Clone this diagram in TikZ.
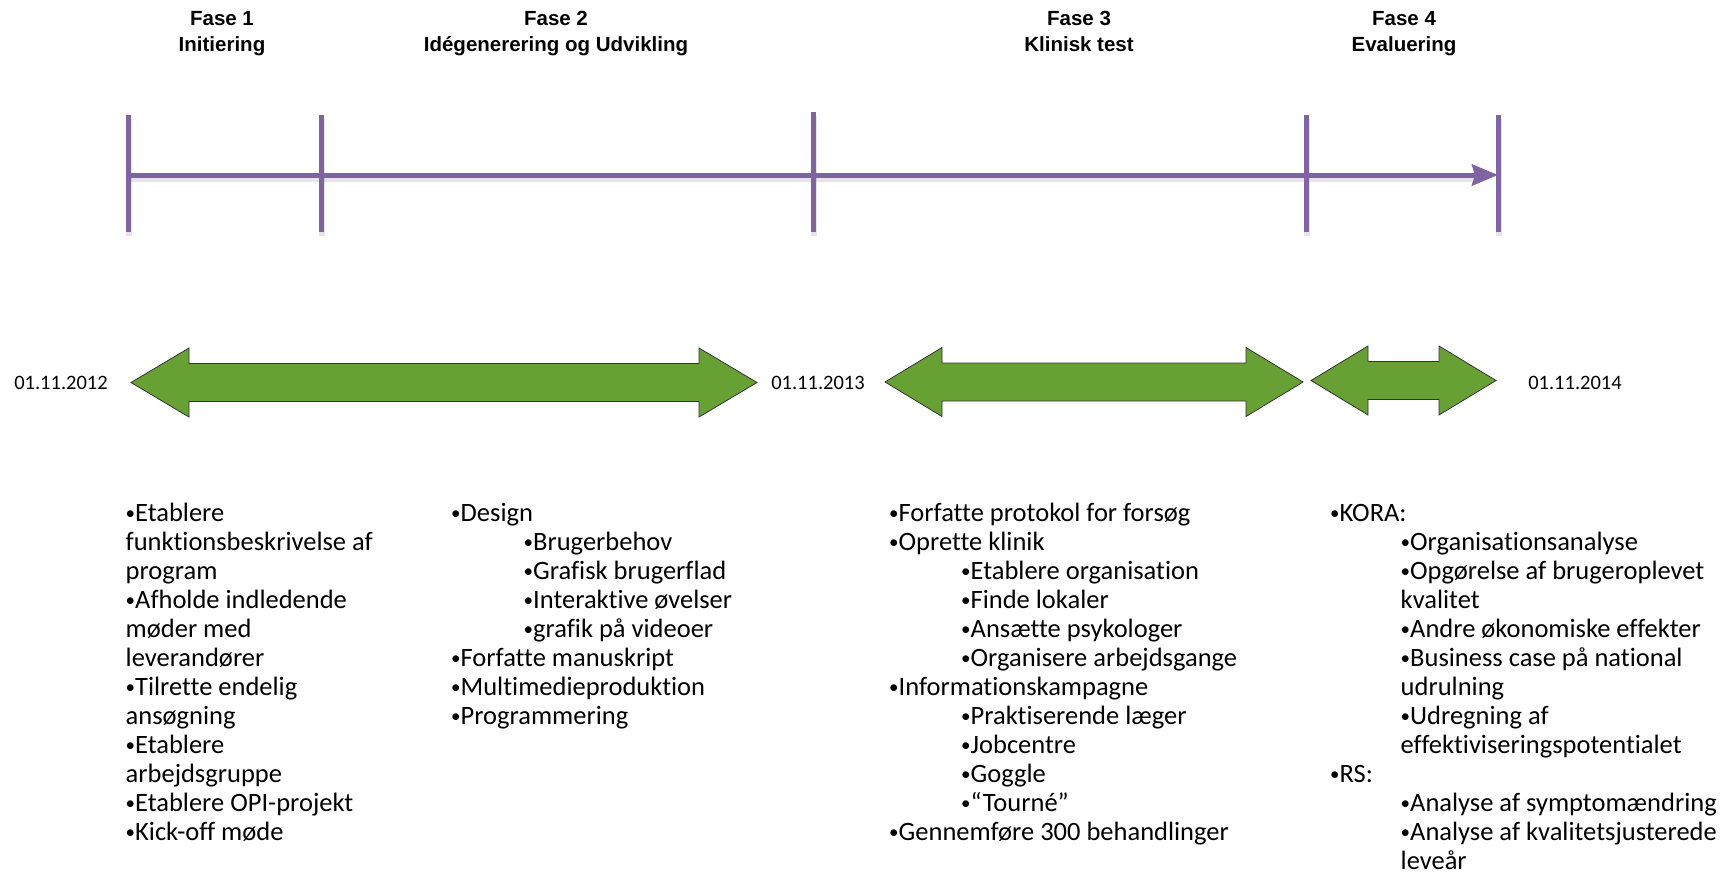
\documentclass[tikz,border=0pt]{standalone}
\usepackage{fontspec}
\setmainfont{Carlito}[Ligatures=NoCommon]
\newfontfamily\hdrfont{Liberation Sans}
\usetikzlibrary{arrows.meta}
\definecolor{tlpurple}{RGB}{128,100,162}
\definecolor{arrgreen}{RGB}{103,161,51}
\newcommand\mybul{{\fontsize{19}{19}\selectfont\raisebox{1.8pt}{•}}}
\begin{document}
\begin{tikzpicture}[x=1pt,y=-1pt,
  hdr/.style={font=\hdrfont\bfseries\fontsize{20.5}{24}\selectfont, anchor=base, inner sep=0pt},
  datelbl/.style={font=\fontsize{20.5}{24}\selectfont, anchor=base, inner sep=0pt},
  bodyline/.style={font=\fontsize{26.5}{29}\selectfont, anchor=base west, inner sep=0pt},
  tlline/.style={draw=tlpurple, line width=5pt},
  tlshadow/.style={draw=black, opacity=0.10, line width=6pt},
  greenarrow/.style={fill=arrgreen, draw=black!80, line width=0.8pt, line join=miter}
]
\useasboundingbox (0,0) rectangle (1731,875);

% headers
\node[hdr] (h1a) at (222,25.5) {Fase 1};
\node[hdr] (h1b) at (222,52) {Initiering};
\node[hdr] (h2a) at (556,25.5) {Fase 2};
\node[hdr] (h2b) at (556,52) {Idégenerering og Udvikling};
\node[hdr] (h3a) at (1079,25.5) {Fase 3};
\node[hdr] (h3b) at (1079,52) {Klinisk test};
\node[hdr] (h4a) at (1404,25.5) {Fase 4};
\node[hdr] (h4b) at (1404,52) {Evaluering};

% timeline coordinates
\coordinate (t0) at (128,175);
\coordinate (tend) at (1498,175);

% shadows
\begin{scope}[shift={(1,4)}]
  \draw[tlshadow] (128,175) -- (1480,175);
  \foreach \tx/\ty in {128/115,321/115,813/112,1306/115,1498/115}
    \draw[tlshadow] (\tx,\ty) -- (\tx,232);
\end{scope}

% ticks
\foreach \tx/\ty [count=\i] in {128/115,321/115,813/112,1306/115,1498/115}{
  \coordinate (tk\i top) at (\tx,\ty);
  \coordinate (tk\i bot) at (\tx,232);
  \draw[tlline] (tk\i top) -- (tk\i bot);
}
% main timeline arrow
\draw[tlline, -{Stealth[length=26pt,width=21pt,inset=3pt]}] (t0) -- (tend);

% green double arrows
\path[greenarrow] (131,382.5) -- ++(58,-34.5) -- ++(0,15.5) -- (699,363.5) -- ++(0,-15.5) -- (757,382.5)
  -- (699,417) -- ++(0,-15.5) -- (189,401.5) -- ++(0,15.5) -- cycle;
\path[greenarrow] (885,382) -- ++(57,-34.5) -- ++(0,15.5) -- (1246,363) -- ++(0,-15.5) -- (1303,382)
  -- (1246,416.5) -- ++(0,-15.5) -- (942,401) -- ++(0,15.5) -- cycle;
\path[greenarrow] (1311,380.5) -- ++(57,-34.5) -- ++(0,15.5) -- (1439,361.5) -- ++(0,-15.5) -- (1496,380.5)
  -- (1439,415) -- ++(0,-15.5) -- (1368,399.5) -- ++(0,15.5) -- cycle;

% dates
\node[datelbl] (d1) at (61,389.5) {01.11.2012};
\node[datelbl] (d2) at (818,389.5) {01.11.2013};
\node[datelbl] (d3) at (1575,389.5) {01.11.2014};

% column 1
\foreach \k/\xx/\txt in {0/125.5/\mybul Etablere, 1/125.5/funktionsbeskrivelse af, 2/125.5/program,
  3/125.5/\mybul Afholde indledende, 4/125.5/møder med, 5/125.5/leverandører, 6/125.5/\mybul Tilrette endelig,
  7/125.5/ansøgning, 8/125.5/\mybul Etablere, 9/125.5/arbejdsgruppe, 10/125.5/\mybul Etablere OPI-projekt,
  11/125.5/\mybul Kick-off møde}
  \node[bodyline] (ca\k) at (\xx,521+29*\k) {\txt};

% column 2
\foreach \k/\xx/\txt in {0/451/\mybul Design, 1/523.5/\mybul Brugerbehov, 2/523.5/\mybul Grafisk brugerflad,
  3/523.5/\mybul Interaktive øvelser, 4/523.5/\mybul grafik på videoer, 5/451/\mybul Forfatte manuskript,
  6/451/\mybul Multimedieproduktion, 7/451/\mybul Programmering}
  \node[bodyline] (cb\k) at (\xx,521+29*\k) {\txt};

% column 3
\foreach \k/\xx/\txt in {0/889/\mybul Forfatte protokol for forsøg, 1/889/\mybul Oprette klinik,
  2/961/\mybul Etablere organisation, 3/961/\mybul Finde lokaler, 4/961/\mybul Ansætte psykologer,
  5/961/\mybul Organisere arbejdsgange, 6/889/\mybul Informationskampagne, 7/961/\mybul Praktiserende læger,
  8/961/\mybul Jobcentre, 9/961/\mybul Goggle, 10/961/\mybul “Tourné”, 11/889/\mybul Gennemføre 300 behandlinger}
  \node[bodyline] (cc\k) at (\xx,521+29*\k) {\txt};

% column 4
\foreach \k/\xx/\txt in {0/1330/\mybul KORA:, 1/1400.5/\mybul Organisationsanalyse,
  2/1400.5/\mybul Opgørelse af brugeroplevet, 3/1400.5/kvalitet, 4/1400.5/\mybul Andre økonomiske effekter,
  5/1400.5/\mybul Business case på national, 6/1400.5/udrulning, 7/1400.5/\mybul Udregning af,
  8/1400.5/effektiviseringspotentialet, 9/1330/\mybul RS:, 10/1400.5/\mybul Analyse af symptomændring,
  11/1400.5/\mybul Analyse af kvalitetsjusterede, 12/1400.5/leveår}
  \node[bodyline] (cd\k) at (\xx,521+29*\k) {\txt};
\end{tikzpicture}
\end{document}
